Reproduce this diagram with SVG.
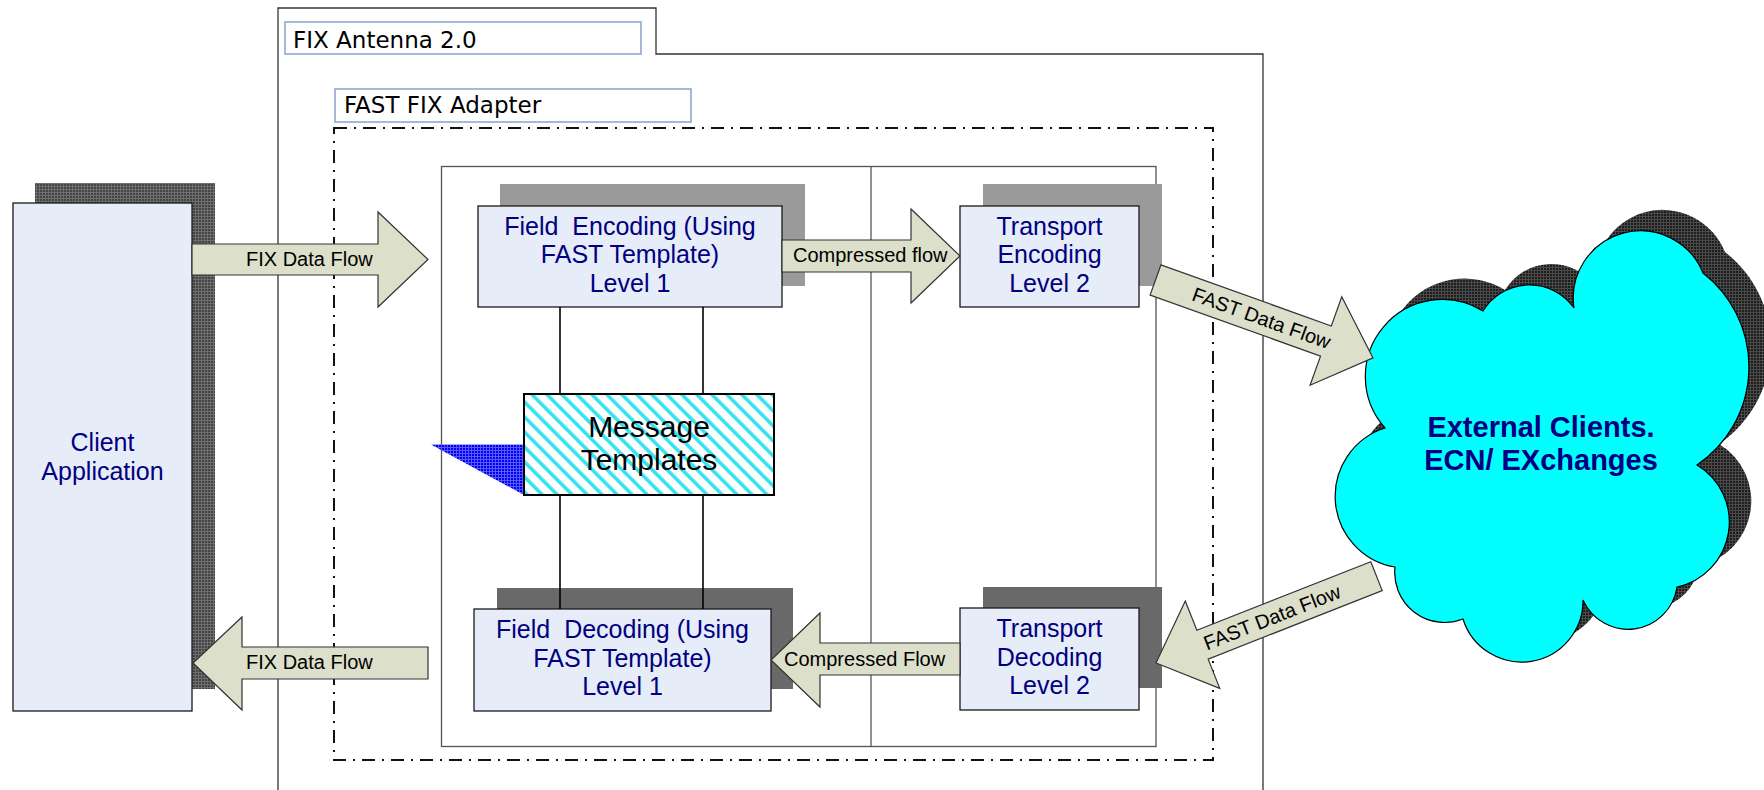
<svg xmlns="http://www.w3.org/2000/svg" width="1764" height="790" viewBox="0 0 1764 790">
<style>
.frame{fill:none;stroke:#333;stroke-width:1.3}
.title-box{fill:#fff;stroke:#8fa9cc;stroke-width:1.6}
.title-text{font-family:"DejaVu Sans","Liberation Sans",sans-serif;font-size:23px;fill:#000}
.dashdot{fill:none;stroke:#111;stroke-width:2;stroke-dasharray:13 7 2 7}
.inner{fill:none;stroke:#555;stroke-width:1.3}
.box{fill:#e6ecf8;stroke:#1a1a1a;stroke-width:1.3}
.sh-light{fill:#9a9a9a}
.sh-dark{fill:#696969}
.node-text{font-family:"Liberation Sans",Arial,sans-serif;font-size:25px;fill:#000080;text-anchor:middle}
.arrow{fill:#dcdfca;stroke:#333;stroke-width:1.2;stroke-linejoin:miter}
.arrow-text{font-family:"Liberation Sans",Arial,sans-serif;font-size:20px;fill:#000}
.link{stroke:#000;stroke-width:1.6;fill:none}
.pre{white-space:pre}
</style>
<defs>
<pattern id="meshGray" width="3" height="3" patternUnits="userSpaceOnUse"><rect width="3" height="3" fill="#444"/><rect width="3" height="1" fill="#6e6e6e"/><rect width="1" height="3" fill="#6e6e6e"/></pattern>
<pattern id="meshDark" width="3" height="3" patternUnits="userSpaceOnUse"><rect width="3" height="3" fill="#1e1e1e"/><rect width="3" height="1" fill="#4a4a4a"/><rect width="1" height="3" fill="#4a4a4a"/></pattern>
<pattern id="meshBlue" width="3" height="3" patternUnits="userSpaceOnUse"><rect width="3" height="3" fill="#0000f0"/><rect width="3" height="1" fill="#5a5aff"/><rect width="1" height="3" fill="#5a5aff"/></pattern>
<pattern id="hatch" width="10.6" height="10.6" patternUnits="userSpaceOnUse" patternTransform="rotate(-45)"><rect width="10.6" height="10.6" fill="#fff"/><rect width="3.6" height="10.6" fill="#33e3f2"/></pattern>
<path id="cloud" d="M1395,567 A71.7,71.7 0 0 1 1385,428 A77.1,77.1 0 0 1 1483,311 A54.5,54.5 0 0 1 1574,308 A67.3,67.3 0 0 1 1703,273 A118.8,118.8 0 0 1 1697,465 A66.5,66.5 0 0 1 1677,587 A49.4,49.4 0 0 1 1583,600 A61.4,61.4 0 0 1 1463,619 A50,50 0 0 1 1395,567 Z"/>
</defs>
<rect width="1764" height="790" fill="#fff"/>

<g id="fix-antenna">
<path class="frame" d="M278,790 V8 H656 V54 H1263 V790"/>
<rect class="title-box" x="285" y="22" width="356" height="32"/>
<text class="title-text" x="293" y="48">FIX Antenna 2.0</text>
</g>

<g id="fast-fix-adapter">
<rect class="title-box" x="335" y="89" width="356" height="33"/>
<text class="title-text" x="344" y="113">FAST FIX Adapter</text>
<rect class="dashdot" x="334" y="128" width="879" height="632"/>
<rect class="inner" x="441.5" y="166.5" width="714.5" height="580"/>
<line class="inner" x1="871" y1="166.5" x2="871" y2="746.5"/>
</g>

<g id="client-application">
<rect x="35" y="183" width="180" height="506" fill="url(#meshGray)"/>
<rect class="box" x="13" y="203" width="179" height="508"/>
<text class="node-text"><tspan x="102.5" y="451">Client</tspan><tspan x="102.5" y="480">Application</tspan></text>
</g>

<g id="field-encoding">
<rect class="sh-light" x="500" y="184" width="305" height="102"/>
<rect class="box" x="478" y="206" width="304" height="101"/>
<text class="node-text pre" xml:space="preserve"><tspan x="630" y="235">Field  Encoding (Using</tspan><tspan x="630" y="263">FAST Template)</tspan><tspan x="630" y="292">Level 1</tspan></text>
</g>

<g id="transport-encoding">
<rect class="sh-light" x="983" y="184" width="179" height="102"/>
<rect class="box" x="960" y="206" width="179" height="101"/>
<text class="node-text"><tspan x="1049.5" y="235">Transport</tspan><tspan x="1049.5" y="263">Encoding</tspan><tspan x="1049.5" y="292">Level 2</tspan></text>
</g>

<g id="message-templates">
<polygon points="431,444.5 524,444.5 524,495" fill="url(#meshBlue)"/>
<rect x="524" y="394" width="250" height="101" fill="url(#hatch)" stroke="#000" stroke-width="2"/>
<text font-family="Liberation Sans, Arial, sans-serif" font-size="30" fill="#000" text-anchor="middle"><tspan x="649" y="437">Message</tspan><tspan x="649" y="470">Templates</tspan></text>
</g>

<g id="field-decoding">
<rect class="sh-dark" x="497" y="588" width="296" height="101"/>
<rect class="box" x="474" y="609" width="297" height="102"/>
<text class="node-text pre" xml:space="preserve"><tspan x="622.5" y="638">Field  Decoding (Using</tspan><tspan x="622.5" y="667">FAST Template)</tspan><tspan x="622.5" y="695">Level 1</tspan></text>
</g>

<g id="transport-decoding">
<rect class="sh-dark" x="983" y="587" width="179" height="101"/>
<rect class="box" x="960" y="608" width="179" height="102"/>
<text class="node-text"><tspan x="1049.5" y="637">Transport</tspan><tspan x="1049.5" y="666">Decoding</tspan><tspan x="1049.5" y="694">Level 2</tspan></text>
</g>

<g id="external-clients">
<use href="#cloud" transform="translate(22,-21)" fill="url(#meshDark)"/>
<use href="#cloud" fill="#00ffff" stroke="#000" stroke-width="1.2"/>
<text font-family="Liberation Sans, Arial, sans-serif" font-size="29" font-weight="bold" fill="#000080" text-anchor="middle"><tspan x="1541" y="437">External Clients.</tspan><tspan x="1541" y="470">ECN/ EXchanges</tspan></text>
</g>

<g id="connectors">
<line class="link" x1="560" y1="307" x2="560" y2="394"/>
<line class="link" x1="703" y1="307" x2="703" y2="394"/>
<line class="link" x1="560" y1="495" x2="560" y2="609"/>
<line class="link" x1="703" y1="495" x2="703" y2="609"/>

<polygon class="arrow" points="192,244 378,244 378,212 428,259.5 378,307 378,275 192,275"/>
<text class="arrow-text" x="246" y="266">FIX Data Flow</text>

<polygon class="arrow" points="428,647 242,647 242,617 193,663 242,710 242,679 428,679"/>
<text class="arrow-text" x="246" y="669">FIX Data Flow</text>

<polygon class="arrow" points="782,240 911,240 911,209 960,256 911,303 911,272 782,272"/>
<text class="arrow-text" x="793" y="262">Compressed flow</text>

<polygon class="arrow" points="960,643 820,643 820,613 771,660 820,707 820,675 960,675"/>
<text class="arrow-text" x="784" y="666">Compressed Flow</text>

<g transform="translate(1155.5,280) rotate(19.7)">
<polygon class="arrow" points="0,-16 181,-16 181,-47 231,0 181,47 181,16 0,16"/>
<text class="arrow-text" x="40" y="7">FAST Data Flow</text>
</g>

<g transform="translate(1156,663) rotate(-21.5)">
<polygon class="arrow" points="0,0 50,-47 50,-15.5 237,-15.5 237,15.5 50,15.5 50,47"/>
<text class="arrow-text" x="52" y="7">FAST Data Flow</text>
</g>
</g>
</svg>
